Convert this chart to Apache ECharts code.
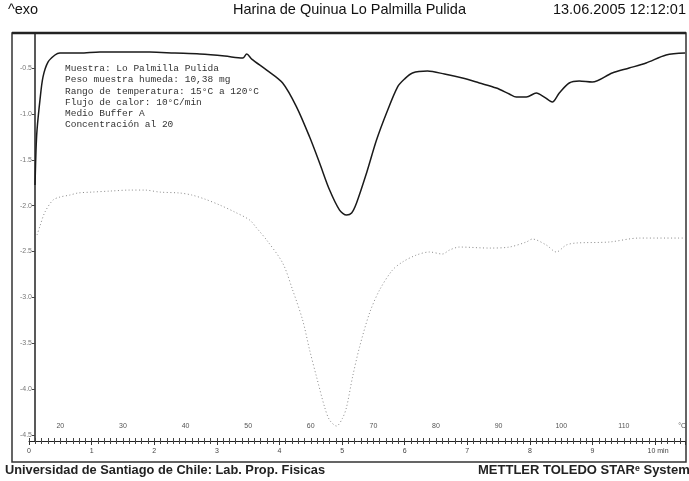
<!DOCTYPE html>
<html>
<head>
<meta charset="utf-8">
<script src="https://cdn.jsdelivr.net/npm/echarts@6/dist/echarts.min.js"></script>
<style>html,body{margin:0;padding:0;background:#fff}#c{width:689px;height:481px}</style>
</head>
<body>
<div id="c"></div>
<script>
// time (min) values of the heat-flow curve (solid, upper)
var upperTime = [0.096,0.112,0.128,0.175,0.223,0.303,0.415,0.494,0.813,1.132,1.611,1.930,2.329,2.727,3.126,3.413,3.477,3.557,3.796,4.051,4.274,4.482,4.641,4.801,4.960,5.072,5.152,5.231,5.391,5.550,5.710,5.885,5.997,6.124,6.364,6.635,6.922,7.193,7.464,7.671,7.783,7.943,8.102,8.230,8.357,8.469,8.628,8.788,8.995,9.314,9.585,9.856,10.175,10.478];
var upperHeat = [-1.775,-1.394,-1.176,-0.849,-0.598,-0.435,-0.358,-0.337,-0.337,-0.326,-0.326,-0.326,-0.337,-0.347,-0.369,-0.391,-0.347,-0.402,-0.522,-0.663,-0.925,-1.252,-1.535,-1.830,-2.048,-2.102,-2.080,-1.971,-1.644,-1.285,-0.990,-0.707,-0.620,-0.554,-0.533,-0.565,-0.609,-0.663,-0.718,-0.783,-0.816,-0.816,-0.772,-0.816,-0.871,-0.772,-0.663,-0.642,-0.653,-0.554,-0.500,-0.445,-0.358,-0.337];
// second (faint dotted) curve
var lowerTime = [0.128,0.175,0.255,0.383,0.494,0.654,0.781,1.005,1.292,1.611,1.850,2.089,2.408,2.600,2.807,3.046,3.285,3.525,3.636,3.796,4.051,4.211,4.370,4.482,4.593,4.721,4.801,4.912,5.008,5.072,5.167,5.279,5.439,5.598,5.805,5.965,6.188,6.396,6.603,6.715,6.874,7.352,7.671,7.943,8.038,8.262,8.421,8.581,8.740,9.266,9.745,10.478];
var lowerHeat = [-2.320,-2.222,-2.069,-1.939,-1.906,-1.884,-1.862,-1.852,-1.841,-1.830,-1.830,-1.852,-1.862,-1.884,-1.928,-1.993,-2.069,-2.157,-2.244,-2.375,-2.625,-2.920,-3.247,-3.574,-3.868,-4.195,-4.337,-4.402,-4.315,-4.195,-3.868,-3.541,-3.170,-2.920,-2.702,-2.614,-2.538,-2.505,-2.527,-2.484,-2.451,-2.462,-2.451,-2.396,-2.364,-2.429,-2.505,-2.429,-2.407,-2.396,-2.353,-2.353];
// tick labels
var timeTicks = [0,1,2,3,4,5,6,7,8,9,10];
var tempLabels = [20,30,40,50,60,70,80,90,100,110,119.3];
var heatTicks = [-0.5,-1.0,-1.5,-2.0,-2.5,-3.0,-3.5,-4.0,-4.5];
var infoLines = ['Muestra: Lo Palmilla Pulida','Peso muestra humeda: 10,38 mg','Rango de temperatura: 15\u00B0C a 120\u00B0C','Flujo de calor: 10\u00B0C/min','Medio Buffer A','Concentraci\u00F3n al 20'];

var tempTicks = [];
for (var k = 15; k <= 119; k++) tempTicks.push(k);

function pairs(a, b) { return a.map(function (v, i) { return [v, b[i]]; }); }

var chart = echarts.init(document.getElementById('c'), null, {renderer: 'canvas'});
chart.setOption({
  animation: false,
  backgroundColor: '#fff',
  grid: {left: 29, right: 3, top: 33, bottom: 40},
  xAxis: [{
    type: 'value', min: 0, max: 10.48, interval: 1, position: 'bottom',
    axisLine: {show: true, lineStyle: {color: '#222', width: 1}},
    axisTick: {show: true, length: 4, lineStyle: {color: '#333'}},
    minorTick: {show: true, splitNumber: 10, length: 3, lineStyle: {color: '#444'}},
    splitLine: {show: false},
    axisLabel: {customValues: timeTicks, fontSize: 7, color: '#444', margin: 7, fontFamily: 'Liberation Sans',
      formatter: function (v) { return v === 10 ? '   10 min' : String(v); }}
  }, {
    type: 'value', min: 15, max: 119.8, position: 'bottom',
    axisLine: {show: false},
    axisTick: {show: true, inside: true, length: 3, customValues: tempTicks, lineStyle: {color: '#444'}},
    splitLine: {show: false},
    axisLabel: {inside: true, customValues: tempLabels, fontSize: 7, color: '#555', margin: 11, fontFamily: 'Liberation Sans',
      formatter: function (v) { return v > 119 ? '\u00B0C' : String(v); }}
  }],
  yAxis: {
    type: 'value', min: -4.565, max: -0.118, offset: -6,
    axisLine: {show: true, lineStyle: {color: '#222', width: 1.5}},
    axisTick: {show: true, customValues: heatTicks, length: 3, lineStyle: {color: '#444'}},
    splitLine: {show: false},
    axisLabel: {customValues: heatTicks, fontSize: 7, color: '#777', margin: 3, fontFamily: 'Liberation Sans',
      formatter: function (v) { return v.toFixed(1); }}
  },
  series: [{
    type: 'line', data: pairs(upperTime, upperHeat), symbol: 'none', smooth: 0.3,
    lineStyle: {color: '#1a1a1a', width: 1.5}, z: 3
  }, {
    type: 'line', data: pairs(lowerTime, lowerHeat), symbol: 'none', smooth: 0.3,
    lineStyle: {color: '#8a8a8a', width: 1, type: [1, 2.5]}, z: 2
  }],
  graphic: [
    {type: 'rect', shape: {x: 12, y: 33, width: 674, height: 429}, style: {fill: 'none', stroke: '#333', lineWidth: 1.5}, silent: true},
    {type: 'line', shape: {x1: 12, y1: 33, x2: 686, y2: 33}, style: {stroke: '#222', lineWidth: 2.5}, silent: true},
    {type: 'text', left: 8, top: 2, style: {text: '^exo', font: '14.5px "Liberation Sans"', fill: '#111'}},
    {type: 'text', left: 233, top: 2, style: {text: 'Harina de Quinua Lo Palmilla Pulida', font: '14.5px "Liberation Sans"', fill: '#111'}},
    {type: 'text', right: 3, top: 2, style: {text: '13.06.2005 12:12:01', font: '14.5px "Liberation Sans"', fill: '#111'}},
    {type: 'text', left: 5, top: 464, style: {text: 'Universidad de Santiago de Chile: Lab. Prop. Fisicas', font: 'bold 12.8px "Liberation Sans"', fill: '#222'}},
    {type: 'text', left: 478, top: 464, style: {text: 'METTLER TOLEDO STAR\u1D49 System', font: 'bold 13px "Liberation Sans"', fill: '#222'}},
    {type: 'text', left: 65, top: 63, style: {text: infoLines.join('\n'), font: '9.5px "Liberation Mono"', lineHeight: 11.2, fill: '#333'}}
  ]
});
</script>
</body>
</html>
